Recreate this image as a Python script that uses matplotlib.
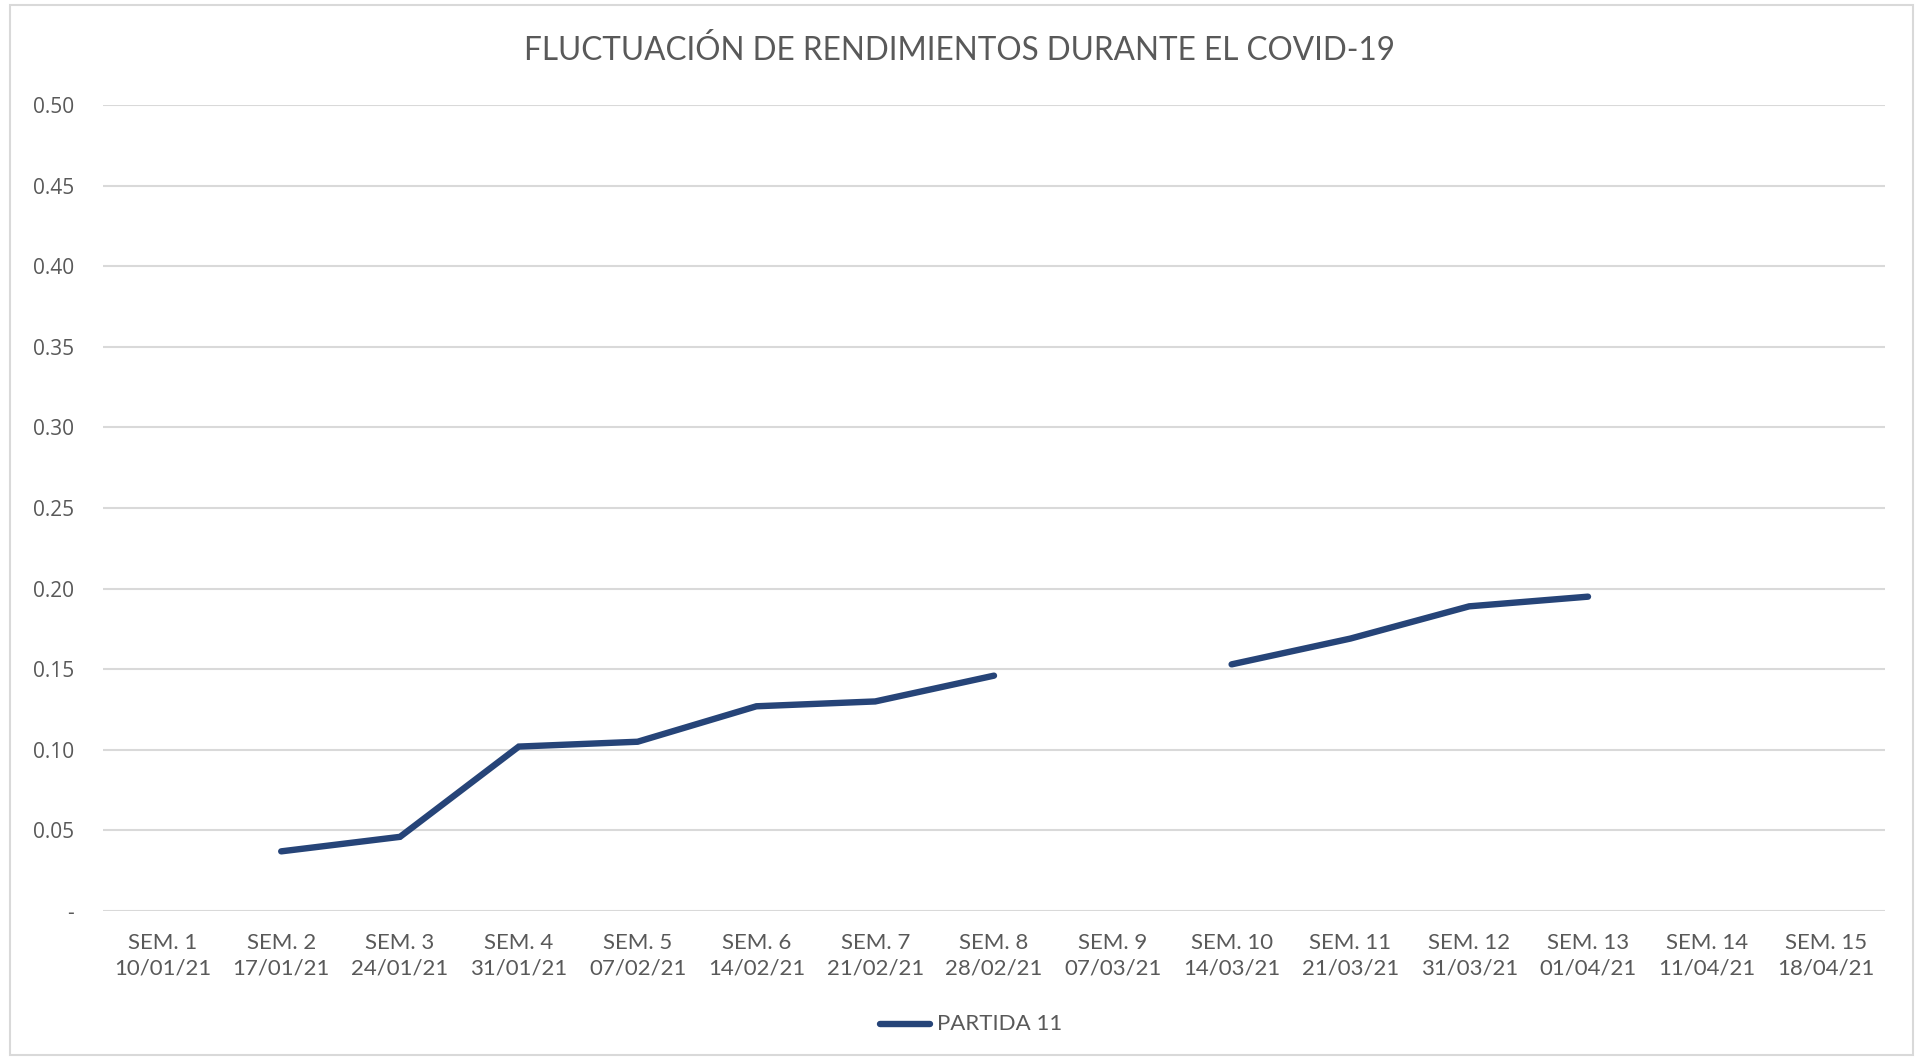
import numpy as np
import matplotlib.pyplot as plt
from matplotlib.patches import Rectangle
from matplotlib.lines import Line2D

semanas = ["SEM. 1", "SEM. 2", "SEM. 3", "SEM. 4", "SEM. 5", "SEM. 6", "SEM. 7", "SEM. 8",
           "SEM. 9", "SEM. 10", "SEM. 11", "SEM. 12", "SEM. 13", "SEM. 14", "SEM. 15"]
fechas = ["10/01/21", "17/01/21", "24/01/21", "31/01/21", "07/02/21", "14/02/21", "21/02/21",
          "28/02/21", "07/03/21", "14/03/21", "21/03/21", "31/03/21", "01/04/21", "11/04/21",
          "18/04/21"]
partida_11 = [np.nan, 0.037, 0.046, 0.102, 0.105, 0.127, 0.130, 0.146,
              np.nan, 0.153, 0.169, 0.189, 0.195, np.nan, np.nan]

W, H = 1919, 1059
COLOR_LINEA = "#264478"
COLOR_GRID = "#d9d9d9"
COLOR_TEXTO = "#595959"
FUENTE = ["Lato", "DejaVu Sans"]

fig = plt.figure(figsize=(W / 100, H / 100), dpi=100)
fig.patches.append(Rectangle((10 / W, 4 / H), 1903 / W, 1050 / H, transform=fig.transFigure,
                             fill=False, edgecolor=COLOR_GRID, linewidth=1.5))

ax = fig.add_axes([103 / W, 1 - 911 / H, (1885 - 103) / W, (911 - 105) / H])
x = np.arange(len(semanas))
ax.plot(x, partida_11, color=COLOR_LINEA, linewidth=4.6, solid_capstyle="round",
        solid_joinstyle="miter")

ax.set_xlim(-0.5, len(semanas) - 0.5)
ax.set_ylim(0, 0.5)
yt = np.arange(0, 0.51, 0.05)
ax.set_yticks(yt)
ax.set_yticklabels(["-"] + [f"{v:.2f}" for v in yt[1:]], family=["Open Sans", "DejaVu Sans"],
                   fontsize=15, color=COLOR_TEXTO)
ax.set_xticks(x)
ax.set_xticklabels([f"{s}\n{f}" for s, f in zip(semanas, fechas)], family=FUENTE,
                   fontsize=16, color=COLOR_TEXTO, linespacing=1.3)
ax.tick_params(axis="both", length=0)
ax.tick_params(axis="y", pad=21)
ax.tick_params(axis="x", pad=16)
ax.grid(axis="y", color=COLOR_GRID, linewidth=1.5)
ax.set_axisbelow(True)
for s in ax.spines.values():
    s.set_visible(False)

fig.text(0.5, 1 - 51 / H, "FLUCTUACIÓN DE RENDIMIENTOS DURANTE EL COVID-19", ha="center",
         va="center", family=FUENTE, fontsize=22.7, color=COLOR_TEXTO)

# leyenda
fig.add_artist(Line2D([880 / W, 930 / W], [1 - 1024 / H, 1 - 1024 / H], transform=fig.transFigure,
                      color=COLOR_LINEA, linewidth=4.6, solid_capstyle="round"))
fig.text(937 / W, 1 - 1024 / H, "PARTIDA 11", ha="left", va="center", family=FUENTE,
         fontsize=16, color=COLOR_TEXTO)

fig.savefig("out.png", dpi=100)
